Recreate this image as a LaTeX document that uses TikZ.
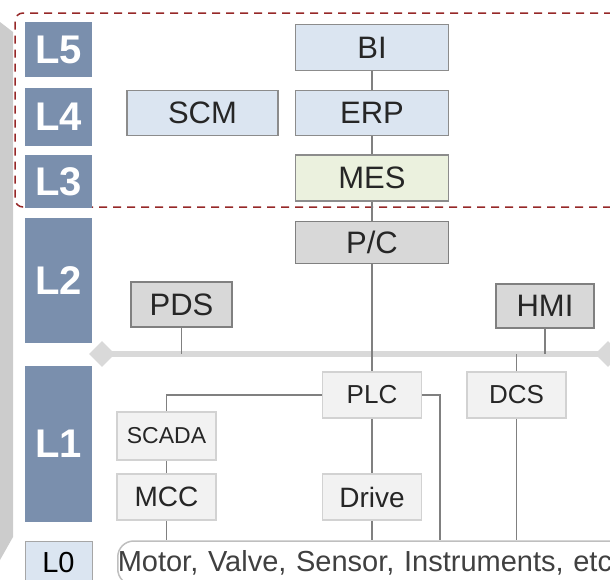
\documentclass[tikz,border=0pt]{standalone}
\usepackage{fontspec}
\setmainfont{Liberation Sans}
\usepackage{tikz}
\usetikzlibrary{shapes.geometric}
\definecolor{lvlblue}{RGB}{122,143,173}
\definecolor{erpblue}{RGB}{219,229,241}
\definecolor{mesgreen}{RGB}{235,241,222}
\definecolor{ctlgray}{RGB}{216,216,216}
\definecolor{devgray}{RGB}{242,242,242}
\definecolor{scopered}{RGB}{150,40,40}

\begin{document}
\begin{tikzpicture}[x=1pt,y=-1pt,
  lvl/.style={fill=lvlblue,text=white,font=\fontsize{40}{44}\selectfont\bfseries,minimum width=67pt,inner sep=0pt},
  box/.style={draw=gray!90,line width=1.5pt,minimum width=153pt,minimum height=45pt,inner sep=0pt,font=\fontsize{31}{34}\selectfont,text=black!85},
  ctl/.style={box,fill=ctlgray,draw=gray},
  dev/.style={box,fill=devgray,draw=gray!35,minimum width=99pt,minimum height=46pt,font=\fontsize{28}{30}\selectfont},
  link/.style={draw=gray,line width=1.5pt},
  busend/.style={diamond,fill=gray!30,minimum size=26pt,inner sep=0pt}]
  \useasboundingbox (0,0) rectangle (610,579);
  \fill[gray!40] (0,22) -- (13,32) -- (13,537) -- (0,560) -- cycle;
  \draw[scopered,line width=1.5pt,dash pattern=on 8pt off 6pt,rounded corners=8pt] (640,13) -- (15,13) -- (15,207) -- (640,207);
  \node[lvl,minimum height=55pt] (L5) at (58.5,49.5) {L5};
  \node[lvl,minimum height=58pt] (L4) at (58.5,117) {L4};
  \node[lvl,minimum height=53pt] (L3) at (58.5,181.5) {L3};
  \node[lvl,minimum height=125pt] (L2) at (58.5,280.5) {L2};
  \node[lvl,minimum height=156pt] (L1) at (58.5,444) {L1};
  \node[fill=erpblue,draw=gray!70,line width=1pt,minimum width=67pt,minimum height=44pt,inner sep=0pt,font=\fontsize{29}{32}\selectfont] (L0) at (58.5,563) {L0};
  \node[box,fill=erpblue,minimum height=46pt] (BI) at (372,47.5) {BI};
  \node[box,fill=erpblue,minimum width=151pt] (SCM) at (202.5,113) {SCM};
  \node[box,fill=erpblue] (ERP) at (372,113) {ERP};
  \node[box,fill=mesgreen,minimum height=46pt] (MES) at (372,178) {MES};
  \node[ctl,minimum height=42pt] (PC) at (372,242.5) {P/C};
  \node[ctl,minimum width=101pt] (PDS) at (181.5,304.5) {PDS};
  \node[ctl,minimum width=98pt,minimum height=44pt] (HMI) at (545,306) {HMI};
  \node[busend] (busL) at (102,354) {};
  \node[busend] (busR) at (608,354) {};
  \draw[gray!30,line width=6pt] (busL.center) -- (busR.center);
  \node[dev,font=\fontsize{26}{30}\selectfont] (PLC) at (372,395) {PLC};
  \node[dev,font=\fontsize{26}{30}\selectfont] (DCS) at (516.5,395) {DCS};
  \node[dev,minimum height=48pt,font=\fontsize{23}{26}\selectfont] (SCADA) at (166.5,436) {SCADA};
  \node[dev] (MCC) at (166.5,497) {MCC};
  \node[dev] (Drive) at (372,497) {Drive};
  \node[draw=gray!50,line width=1.5pt,rounded corners=16pt,anchor=west,minimum height=44pt,text width=530pt,inner xsep=0pt,align=left,font=\fontsize{29}{32}\selectfont,text=black!75] (field) at (117,563) {Motor, Valve, Sensor, Instruments, etc};
  \coordinate (plcR) at (440,395);
  \draw[link] (BI) -- (ERP);
  \draw[link] (ERP) -- (MES);
  \draw[link] (MES) -- (PC);
  \draw[link] (PC) -- (PLC);
  \draw[link] (PDS.south) -- (PDS.south |- busL.center);
  \draw[link] (HMI.south) -- (HMI.south |- busL.center);
  \draw[link] (DCS.north) -- (DCS.north |- busL.center);
  \draw[link] (PLC.west) -| (SCADA.north);
  \draw[link] (SCADA) -- (MCC);
  \draw[link] (MCC) -- (MCC |- field.north);
  \draw[link] (PLC) -- (Drive);
  \draw[link] (Drive) -- (Drive |- field.north);
  \draw[link] (PLC.east) -- (plcR) -- (plcR |- field.north);
  \draw[link] (DCS) -- (DCS |- field.north);
\end{tikzpicture}
\end{document}
